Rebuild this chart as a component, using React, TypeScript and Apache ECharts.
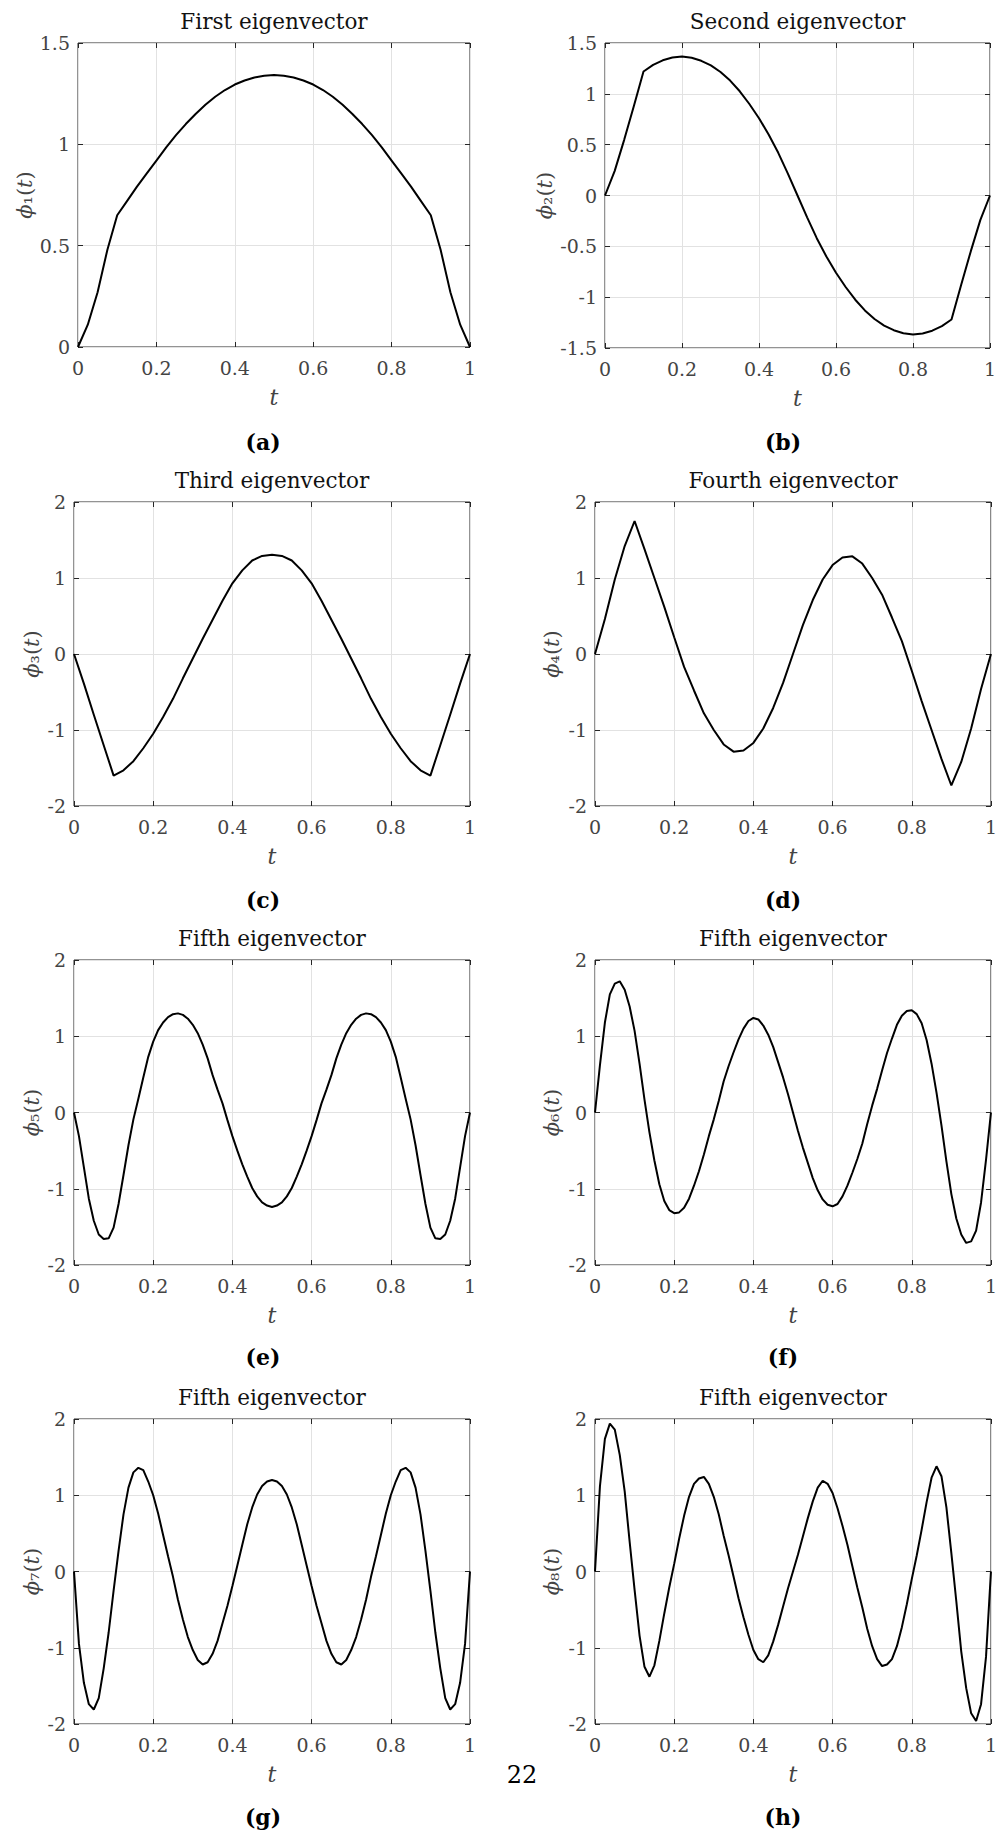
import React, { useEffect, useRef } from "react";
import * as echarts from "echarts";

// ---------- sample positions (t) ----------
const T_COARSE = [
  0, 0.025, 0.05, 0.075, 0.1, 0.125, 0.15, 0.175, 0.2, 0.225, 0.25, 0.275, 0.3, 0.325, 0.35, 0.375, 0.4,
  0.425, 0.45, 0.475, 0.5, 0.525, 0.55, 0.575, 0.6, 0.625, 0.65, 0.675, 0.7, 0.725, 0.75, 0.775, 0.8,
  0.825, 0.85, 0.875, 0.9, 0.925, 0.95, 0.975, 1,
];
const T_FINE = [
  0, 0.0125, 0.025, 0.0375, 0.05, 0.0625, 0.075, 0.0875, 0.1, 0.1125, 0.125, 0.1375, 0.15, 0.1625, 0.175,
  0.1875, 0.2, 0.2125, 0.225, 0.2375, 0.25, 0.2625, 0.275, 0.2875, 0.3, 0.3125, 0.325, 0.3375, 0.35, 0.3625,
  0.375, 0.3875, 0.4, 0.4125, 0.425, 0.4375, 0.45, 0.4625, 0.475, 0.4875, 0.5, 0.5125, 0.525, 0.5375, 0.55,
  0.5625, 0.575, 0.5875, 0.6, 0.6125, 0.625, 0.6375, 0.65, 0.6625, 0.675, 0.6875, 0.7, 0.7125, 0.725, 0.7375,
  0.75, 0.7625, 0.775, 0.7875, 0.8, 0.8125, 0.825, 0.8375, 0.85, 0.8625, 0.875, 0.8875, 0.9, 0.9125, 0.925,
  0.9375, 0.95, 0.9625, 0.975, 0.9875, 1,
];

// ---------- eigenvector values ----------
const PHI1 = [
  0, 0.11, 0.27, 0.48, 0.65, 0.72, 0.79, 0.855, 0.92, 0.985, 1.045, 1.1, 1.15, 1.195, 1.235, 1.268, 1.295,
  1.315, 1.33, 1.338, 1.342, 1.338, 1.33, 1.315, 1.295, 1.268, 1.235, 1.195, 1.15, 1.1, 1.045, 0.985, 0.92,
  0.855, 0.79, 0.72, 0.65, 0.48, 0.27, 0.11, 0,
];
const PHI2 = [
  0, 0.24, 0.55, 0.88, 1.22, 1.285, 1.33, 1.357, 1.368, 1.355, 1.325, 1.28, 1.215, 1.13, 1.025, 0.9, 0.76,
  0.6, 0.42, 0.215, 0, -0.215, -0.42, -0.6, -0.76, -0.9, -1.025, -1.13, -1.215, -1.28, -1.325, -1.355,
  -1.368, -1.357, -1.33, -1.285, -1.22, -0.88, -0.55, -0.24, 0,
];
const PHI3 = [
  0, -0.39, -0.8, -1.2, -1.6, -1.53, -1.41, -1.24, -1.05, -0.83, -0.59, -0.32, -0.06, 0.2, 0.45, 0.7, 0.93,
  1.1, 1.23, 1.29, 1.305, 1.29, 1.23, 1.1, 0.93, 0.7, 0.45, 0.2, -0.06, -0.32, -0.59, -0.83, -1.05, -1.24,
  -1.41, -1.53, -1.6, -1.2, -0.8, -0.39, 0,
];
const PHI4 = [
  0, 0.46, 0.98, 1.42, 1.75, 1.38, 1.0, 0.62, 0.22, -0.17, -0.48, -0.78, -1.0, -1.19, -1.285, -1.27, -1.17,
  -0.98, -0.71, -0.38, 0, 0.38, 0.71, 0.98, 1.17, 1.27, 1.285, 1.19, 1.0, 0.78, 0.48, 0.17, -0.22, -0.62,
  -1.0, -1.38, -1.73, -1.42, -0.98, -0.46, 0,
];
const PHI5 = [
  0, -0.31, -0.72, -1.13, -1.42, -1.6, -1.66, -1.65, -1.51, -1.2, -0.82, -0.43, -0.09, 0.18, 0.46, 0.73,
  0.93, 1.08, 1.18, 1.25, 1.29, 1.3, 1.28, 1.23, 1.15, 1.04, 0.89, 0.71, 0.49, 0.3, 0.12, -0.1, -0.31, -0.5,
  -0.68, -0.84, -0.99, -1.1, -1.18, -1.22, -1.24, -1.22, -1.18, -1.1, -0.99, -0.84, -0.68, -0.5, -0.31, -0.1,
  0.12, 0.3, 0.49, 0.71, 0.89, 1.04, 1.15, 1.23, 1.28, 1.3, 1.29, 1.25, 1.18, 1.08, 0.93, 0.73, 0.46, 0.18,
  -0.09, -0.43, -0.82, -1.2, -1.51, -1.65, -1.66, -1.6, -1.42, -1.13, -0.72, -0.31, 0,
];
const PHI6 = [
  0, 0.62, 1.18, 1.55, 1.69, 1.72, 1.61, 1.39, 1.07, 0.64, 0.17, -0.26, -0.63, -0.94, -1.16, -1.28, -1.32,
  -1.31, -1.25, -1.13, -0.96, -0.77, -0.55, -0.31, -0.09, 0.15, 0.41, 0.61, 0.79, 0.96, 1.1, 1.2, 1.24, 1.22,
  1.14, 1.02, 0.86, 0.66, 0.46, 0.24, 0, -0.24, -0.46, -0.66, -0.86, -1.02, -1.14, -1.21, -1.23, -1.2, -1.1,
  -0.96, -0.79, -0.61, -0.41, -0.15, 0.09, 0.31, 0.55, 0.78, 0.97, 1.15, 1.27, 1.33, 1.34, 1.29, 1.17, 0.95,
  0.64, 0.26, -0.17, -0.64, -1.07, -1.39, -1.6, -1.71, -1.69, -1.55, -1.18, -0.62, 0,
];
const PHI7 = [
  0, -0.95, -1.46, -1.74, -1.81, -1.66, -1.27, -0.8, -0.25, 0.27, 0.75, 1.1, 1.3, 1.36, 1.33, 1.18, 1.0,
  0.76, 0.48, 0.2, -0.07, -0.37, -0.63, -0.86, -1.03, -1.16, -1.22, -1.19, -1.08, -0.91, -0.68, -0.45, -0.19,
  0.08, 0.35, 0.62, 0.84, 1.01, 1.12, 1.18, 1.2, 1.18, 1.12, 1.01, 0.84, 0.62, 0.35, 0.08, -0.19, -0.45,
  -0.68, -0.91, -1.08, -1.19, -1.22, -1.16, -1.03, -0.86, -0.63, -0.37, -0.07, 0.2, 0.48, 0.76, 1.0, 1.18,
  1.33, 1.36, 1.3, 1.1, 0.75, 0.27, -0.25, -0.8, -1.27, -1.66, -1.81, -1.74, -1.46, -0.95, 0,
];
const PHI8 = [
  0, 1.12, 1.74, 1.94, 1.86, 1.53, 1.05, 0.39, -0.24, -0.84, -1.25, -1.38, -1.23, -0.91, -0.55, -0.21, 0.1,
  0.43, 0.73, 0.98, 1.15, 1.22, 1.24, 1.15, 0.98, 0.75, 0.47, 0.21, -0.07, -0.35, -0.6, -0.83, -1.03, -1.15,
  -1.19, -1.1, -0.92, -0.7, -0.46, -0.22, 0, 0.22, 0.46, 0.7, 0.92, 1.1, 1.19, 1.15, 1.03, 0.83, 0.6, 0.35,
  0.07, -0.21, -0.47, -0.75, -0.98, -1.15, -1.24, -1.22, -1.15, -0.98, -0.73, -0.43, -0.1, 0.21, 0.55, 0.91,
  1.23, 1.38, 1.25, 0.84, 0.24, -0.39, -1.05, -1.53, -1.86, -1.96, -1.74, -1.12, 0,
];

// ---------- texts ----------
const TITLES = [
  "First eigenvector", "Second eigenvector", "Third eigenvector", "Fourth eigenvector",
  "Fifth eigenvector", "Fifth eigenvector", "Fifth eigenvector", "Fifth eigenvector",
];
const SUBSCRIPTS = ["₁", "₂", "₃", "₄", "₅", "₆", "₇", "₈"];
const CAPTIONS = ["(a)", "(b)", "(c)", "(d)", "(e)", "(f)", "(g)", "(h)"];
const PAGE_NUMBER = "22";
const X_NAME = "t";

const SERIES_T = [T_COARSE, T_COARSE, T_COARSE, T_COARSE, T_FINE, T_FINE, T_FINE, T_FINE];
const SERIES_V = [PHI1, PHI2, PHI3, PHI4, PHI5, PHI6, PHI7, PHI8];
const Y_RANGES = [
  [0, 1.5, 0.5], [-1.5, 1.5, 0.5], [-2, 2, 1], [-2, 2, 1],
  [-2, 2, 1], [-2, 2, 1], [-2, 2, 1], [-2, 2, 1],
];
const X_RANGE = [0, 1, 0.2];

// ---------- layout (pixels) ----------
const GRIDS = [
  { left: 78, top: 43, width: 392, height: 304, nameGap: 38 },
  { left: 605, top: 43, width: 385, height: 305, nameGap: 50 },
  { left: 74, top: 502, width: 396, height: 304, nameGap: 32 },
  { left: 595, top: 502, width: 396, height: 304, nameGap: 33 },
  { left: 74, top: 960, width: 396, height: 305, nameGap: 32 },
  { left: 595, top: 960, width: 396, height: 305, nameGap: 33 },
  { left: 74, top: 1419, width: 396, height: 305, nameGap: 32 },
  { left: 595, top: 1419, width: 396, height: 305, nameGap: 33 },
];
const CAPTION_POS = [
  [263, 442], [783, 442], [263, 900], [783, 900],
  [263, 1357], [783, 1357], [263, 1817], [783, 1817],
];

const FONT = "'DejaVu Serif', serif";
const LABEL_COLOR = "#444";
const BOX_COLOR = "#262626";

function buildOption() {
  const title = GRIDS.map((g, i) => ({
    text: TITLES[i],
    left: g.left + g.width / 2,
    top: g.top - 22,
    textAlign: "center",
    textVerticalAlign: "middle",
    padding: 0,
    textStyle: { fontFamily: FONT, fontSize: 21.5, fontWeight: "normal", color: "#111" },
  }));

  const grid = GRIDS.map((g) => ({
    left: g.left,
    top: g.top,
    width: g.width,
    height: g.height,
    show: true,
    borderColor: BOX_COLOR,
    borderWidth: 1,
    backgroundColor: "#fff",
    containLabel: false,
  }));

  const tick = { show: true, inside: true, length: 5, lineStyle: { color: BOX_COLOR, width: 1 } };
  const split = { show: true, lineStyle: { color: "#e2e2e2", width: 1 } };
  const labelStyle = { fontFamily: FONT, fontSize: 19, color: LABEL_COLOR };
  const hiddenLine = { show: false, onZero: false };

  const xAxis: any[] = [];
  const yAxis: any[] = [];
  GRIDS.forEach((g, i) => {
    xAxis.push({
      gridIndex: i,
      type: "value",
      position: "bottom",
      min: X_RANGE[0],
      max: X_RANGE[1],
      interval: X_RANGE[2],
      axisLine: hiddenLine,
      axisTick: tick,
      splitLine: split,
      axisLabel: { ...labelStyle, margin: 11, formatter: (v: number) => String(+v.toFixed(2)) },
      name: X_NAME,
      nameLocation: "middle",
      nameGap: 39,
      nameTextStyle: { fontFamily: FONT, fontSize: 22, fontStyle: "italic", color: LABEL_COLOR },
    });
    yAxis.push({
      gridIndex: i,
      type: "value",
      position: "left",
      min: Y_RANGES[i][0],
      max: Y_RANGES[i][1],
      interval: Y_RANGES[i][2],
      axisLine: hiddenLine,
      axisTick: tick,
      splitLine: split,
      axisLabel: { ...labelStyle, margin: 8, formatter: (v: number) => String(+v.toFixed(2)) },
      name: `{i|ϕ}{n|${SUBSCRIPTS[i]}(}{i|t}{n|)}`,
      nameLocation: "middle",
      nameRotate: 90,
      nameGap: g.nameGap,
      nameTextStyle: {
        fontFamily: FONT,
        fontSize: 21,
        color: LABEL_COLOR,
        rich: {
          i: { fontFamily: FONT, fontSize: 21, fontStyle: "italic", color: LABEL_COLOR },
          n: { fontFamily: FONT, fontSize: 21, color: LABEL_COLOR },
        },
      },
    });
  });
  // mirrored ticks on the top / right edges of each box
  GRIDS.forEach((g, i) => {
    xAxis.push({
      gridIndex: i,
      type: "value",
      position: "top",
      min: X_RANGE[0],
      max: X_RANGE[1],
      interval: X_RANGE[2],
      axisLine: hiddenLine,
      axisTick: tick,
      splitLine: { show: false },
      axisLabel: { show: false },
    });
    yAxis.push({
      gridIndex: i,
      type: "value",
      position: "right",
      min: Y_RANGES[i][0],
      max: Y_RANGES[i][1],
      interval: Y_RANGES[i][2],
      axisLine: hiddenLine,
      axisTick: tick,
      splitLine: { show: false },
      axisLabel: { show: false },
    });
  });

  const series = SERIES_V.map((vals, i) => ({
    type: "line",
    xAxisIndex: i,
    yAxisIndex: i,
    data: SERIES_T[i].map((t, j) => [t, vals[j]]),
    showSymbol: false,
    symbol: "none",
    smooth: false,
    silent: true,
    lineStyle: { color: "#000", width: 2 },
    z: 5,
  }));

  const graphic: any[] = CAPTIONS.map((c, i) => ({
    type: "text",
    x: CAPTION_POS[i][0],
    y: CAPTION_POS[i][1],
    style: {
      text: c,
      font: `bold 22px ${FONT}`,
      fill: "#000",
      align: "center",
      verticalAlign: "middle",
      textAlign: "center",
      textVerticalAlign: "middle",
    },
  }));
  graphic.push({
    type: "text",
    x: 522,
    y: 1775,
    style: {
      text: PAGE_NUMBER,
      font: `24px ${FONT}`,
      fill: "#000",
      align: "center",
      verticalAlign: "middle",
      textAlign: "center",
      textVerticalAlign: "middle",
    },
  });

  return {
    animation: false,
    backgroundColor: "#fff",
    title,
    grid,
    xAxis,
    yAxis,
    series,
    graphic,
  };
}

export default function App() {
  const ref = useRef<HTMLDivElement>(null);
  useEffect(() => {
    if (!ref.current) return;
    const chart = echarts.init(ref.current, undefined, { renderer: "svg" });
    chart.setOption(buildOption() as any);
    return () => chart.dispose();
  }, []);
  return (
    <div
      ref={ref}
      style={{ position: "absolute", left: 0, top: 0, width: 1000, height: 1836, background: "#fff" }}
    />
  );
}
